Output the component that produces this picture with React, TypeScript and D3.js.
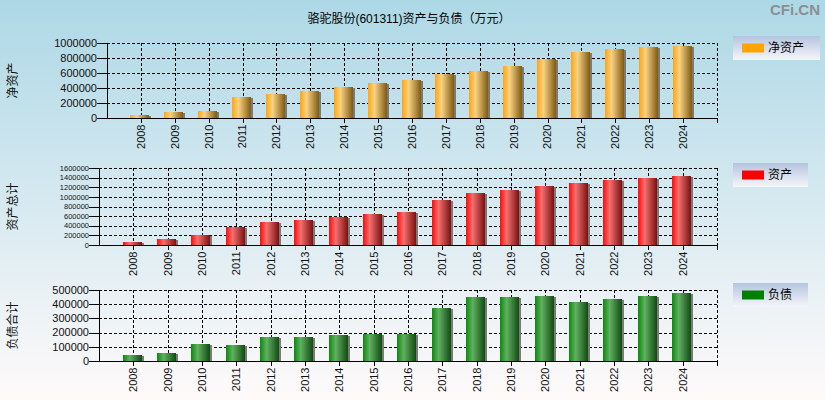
import React from 'react';
import * as d3 from 'd3';

const years = ['2008', '2009', '2010', '2011', '2012', '2013', '2014', '2015', '2016', '2017', '2018', '2019', '2020', '2021', '2022', '2023', '2024'];
const netAssets = [44000, 83000, 97000, 282000, 321000, 361000, 414000, 467000, 507000, 590000, 626000, 692000, 784000, 877000, 917000, 943000, 956000];
const totalAssets = [69000, 131000, 214000, 380000, 484000, 526000, 588000, 650000, 692000, 941000, 1087000, 1149000, 1232000, 1295000, 1357000, 1398000, 1440000];
const liabilities = [42000, 57000, 120000, 113000, 170000, 170000, 184000, 191000, 191000, 375000, 453000, 453000, 460000, 417000, 438000, 460000, 481000];
const ticksNet = [0, 200000, 400000, 600000, 800000, 1000000];
const ticksAssets = [0, 200000, 400000, 600000, 800000, 1000000, 1200000, 1400000, 1600000];
const ticksLiab = [0, 100000, 200000, 300000, 400000, 500000];

const title = '骆驼股份(601311)资产与负债（万元）';
const FONT = '"Liberation Sans", Arial, "Noto Sans CJK SC", sans-serif';

type PanelProps = {
  x0: number; x1: number; top: number; bottom: number;
  values: number[]; ticks: number[]; grad: string;
  tickFont: number; yTitle: string; legend: string; legendColor: string;
  legendBox: [number, number, number, number];
};

function Panel(p: PanelProps) {
  const maxV = p.ticks[p.ticks.length - 1];
  const x = d3.scaleLinear().domain([0, years.length + 1]).range([p.x0, p.x1]);
  const y = d3.scaleLinear().domain([0, maxV]).range([p.bottom, p.top]);
  const slot = x(1) - x(0);
  const bw = slot * 0.56;
  const sh = 2;
  const px = (v: number) => Math.round(v) + 0.5;
  const [lx, ly, lw, lh] = p.legendBox;
  return (
    <g>
      {/* grid horizontal */}
      {p.ticks.filter((t) => t !== 0).map((t) => (
        <line key={'h' + t} x1={p.x0} x2={p.x1} y1={px(y(t))} y2={px(y(t))} stroke="#000" strokeDasharray="3,2" strokeWidth={1} />
      ))}
      {/* grid vertical */}
      {years.map((yr, i) => (
        <line key={'v' + yr} x1={px(x(i + 1))} x2={px(x(i + 1))} y1={p.top} y2={p.bottom} stroke="#000" strokeDasharray="3,2" strokeWidth={1} />
      ))}
      <line x1={px(p.x1)} x2={px(p.x1)} y1={p.top} y2={p.bottom} stroke="#000" strokeDasharray="3,2" />
      {/* bars */}
      {p.values.map((v, i) => {
        const c = x(i + 1);
        const left = Math.round(c - bw / 2 - 1);
        const top = Math.round(y(v));
        const h = Math.round(p.bottom) - top;
        return (
          <g key={'b' + i}>
            <rect x={left + sh} y={top + 1} width={Math.round(bw)} height={h - 1} fill="#7a7a7a" />
            <rect x={left} y={top} width={Math.round(bw)} height={h} fill={`url(#${p.grad})`} />
          </g>
        );
      })}
      {/* axes */}
      <line x1={px(p.x0)} x2={px(p.x0)} y1={p.top} y2={px(p.bottom)} stroke="#000" />
      <line x1={p.x0} x2={px(p.x1) + 0.5} y1={px(p.bottom)} y2={px(p.bottom)} stroke="#000" />
      {p.ticks.map((t) => (
        <g key={'t' + t}>
          <line x1={p.x0 - 10} x2={p.x0} y1={px(y(t))} y2={px(y(t))} stroke="#000" />
          <text x={p.x0 - 10} y={y(t)} dy="0.35em" textAnchor="end" fontSize={p.tickFont} fontFamily={FONT} fill="#111">{t}</text>
        </g>
      ))}
      {years.map((yr, i) => (
        <g key={'x' + yr}>
          <line x1={px(x(i + 1))} x2={px(x(i + 1))} y1={p.bottom} y2={p.bottom + 5} stroke="#000" />
          <text transform={`translate(${x(i + 1)},${p.bottom + 6.5}) rotate(-90)`} textAnchor="end" dy="0.35em" fontSize={11} fontFamily={FONT} fill="#111">{yr}</text>
        </g>
      ))}
      <line x1={px(p.x1)} x2={px(p.x1)} y1={p.bottom} y2={p.bottom + 5} stroke="#000" />
      {/* y title */}
      <text transform={`translate(13,${(p.top + p.bottom) / 2}) rotate(-90)`} textAnchor="middle" dy="0.35em" fontSize={12} fontFamily={FONT} fill="#111">{p.yTitle}</text>
      {/* legend */}
      <rect x={lx} y={ly} width={lw} height={lh} fill="url(#legendGrad)" />
      <rect x={lx + 9} y={ly + 7.5} width={22} height={9} fill={p.legendColor} />
      <text x={lx + 35} y={ly + lh / 2} dy="0.35em" fontSize={12} fontFamily={FONT} fill="#000">{p.legend}</text>
    </g>
  );
}

export default function App() {
  const W = 825, H = 400;
  return (
    <svg width={W} height={H} style={{ position: 'absolute', left: 0, top: 0 }}>
      <defs>
        <linearGradient id="bg" x1="0" y1="0" x2="0" y2="1">
          <stop offset="0" stopColor="#add8e6" />
          <stop offset="1" stopColor="#fffafa" />
        </linearGradient>
        <linearGradient id="legendGrad" x1="0" y1="0" x2="0" y2="1">
          <stop offset="0" stopColor="#b4c4de" />
          <stop offset="1" stopColor="#f6f6fa" />
        </linearGradient>
        <linearGradient id="gOrange" x1="0" y1="0" x2="1" y2="0">
          <stop offset="0" stopColor="#ffa510" />
          <stop offset="0.35" stopColor="#f8d283" />
          <stop offset="1" stopColor="#7e5a12" />
        </linearGradient>
        <linearGradient id="gRed" x1="0" y1="0" x2="1" y2="0">
          <stop offset="0" stopColor="#ff0a0a" />
          <stop offset="0.35" stopColor="#f47070" />
          <stop offset="1" stopColor="#7a1010" />
        </linearGradient>
        <linearGradient id="gGreen" x1="0" y1="0" x2="1" y2="0">
          <stop offset="0" stopColor="#0a8a0a" />
          <stop offset="0.35" stopColor="#62b062" />
          <stop offset="1" stopColor="#124a12" />
        </linearGradient>
      </defs>
      <rect x={0} y={0} width={W} height={H} fill="url(#bg)" />
      <text x={409} y={18.5} dy="0.35em" textAnchor="middle" fontSize={12} fontFamily={FONT} fill="#000">{title}</text>
      <text x={820} y={10} dy="0.35em" textAnchor="end" fontSize={15} fontWeight="bold" fontFamily={FONT} fill="#8a8f94">CFi.CN</text>
      <Panel x0={107} x1={717} top={43} bottom={118} values={netAssets} ticks={ticksNet} grad="gOrange" tickFont={11} yTitle="净资产" legend="净资产" legendColor="#ffa500" legendBox={[733, 36, 87, 24]} />
      <Panel x0={99} x1={717} top={168} bottom={245} values={totalAssets} ticks={ticksAssets} grad="gRed" tickFont={7.5} yTitle="资产总计" legend="资产" legendColor="#ff0000" legendBox={[733, 163, 75, 24]} />
      <Panel x0={99} x1={717} top={290} bottom={361} values={liabilities} ticks={ticksLiab} grad="gGreen" tickFont={11} yTitle="负债合计" legend="负债" legendColor="#008000" legendBox={[733, 283, 75, 24]} />
    </svg>
  );
}
